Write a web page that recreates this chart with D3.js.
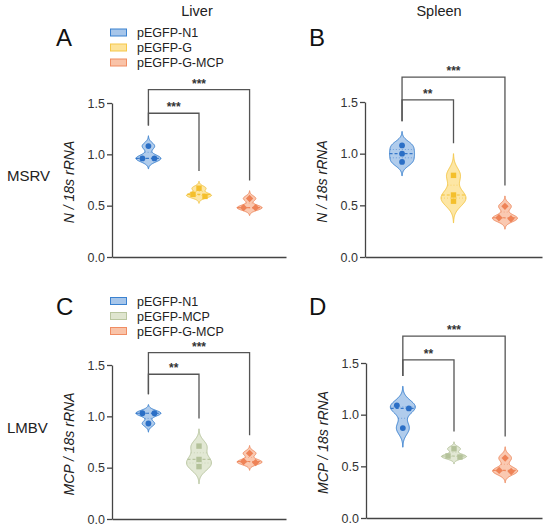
<!DOCTYPE html>
<html>
<head>
<meta charset="utf-8">
<script src="https://cdn.jsdelivr.net/npm/d3@7"></script>
<style>
  body { margin: 0; background: #fff; }
  svg { font-family: "Liberation Sans", Arial, sans-serif; }
</style>
</head>
<body>
<div id="chart"></div>
<script>
// groups per row
const groupsMSRV = ["pEGFP-N1", "pEGFP-G", "pEGFP-G-MCP"];
const groupsLMBV = ["pEGFP-N1", "pEGFP-MCP", "pEGFP-G-MCP"];

// relative expression, 3 replicates per group
const liverMSRV = [[1.08, 0.96, 0.96], [0.67, 0.61, 0.59], [0.57, 0.48, 0.48]];
const spleenMSRV = [[1.08, 1.0, 0.92], [0.79, 0.6, 0.54], [0.49, 0.38, 0.37]];
const liverLMBV = [[1.03, 1.03, 0.93], [0.71, 0.58, 0.51], [0.64, 0.56, 0.55]];
const spleenLMBV = [[1.09, 1.06, 0.87], [0.67, 0.6, 0.59], [0.58, 0.46, 0.45]];

const yTicks = [0, 0.5, 1.0, 1.5];

// significance: [compared group index, bracket level, label]
const sigLiverMSRV = [[1, 1.4, "***"], [2, 1.63, "***"]];
const sigSpleenMSRV = [[1, 1.52, "**"], [2, 1.74, "***"]];
const sigLiverLMBV = [[1, 1.41, "**"], [2, 1.62, "***"]];
const sigSpleenLMBV = [[1, 1.53, "**"], [2, 1.76, "***"]];

const colors = {
  "pEGFP-N1": { fill: "#a7c6ea", stroke: "#3b82d0", dot: "#2b6fc6" },
  "pEGFP-G": { fill: "#fde39a", stroke: "#f5c84a", dot: "#f4bf2c" },
  "pEGFP-G-MCP": { fill: "#f9c3a8", stroke: "#f08d63", dot: "#ee8357" },
  "pEGFP-MCP": { fill: "#dfe5cf", stroke: "#b9c6a0", dot: "#b4c29a" }
};
const shapes = ["circle", "square", "diamond"];

const svg = d3.select("#chart").append("svg")
  .attr("width", 550).attr("height", 529);

function kde(values, h, y) {
  return d3.mean(values, v => Math.exp(-0.5 * ((y - v) / h) ** 2));
}

function panel(opt) {
  const g = svg.append("g");
  const x = d3.scalePoint().domain(opt.groups).range([opt.x0, opt.x1]).padding(0.72);
  const y = d3.scaleLinear().domain([0, 1.5]).range([opt.y0, opt.y1]);

  g.append("g")
    .attr("transform", `translate(${opt.x0},0)`)
    .call(d3.axisLeft(y).tickValues(yTicks).tickFormat(d3.format(".1f")).tickSize(5).tickSizeOuter(0))
    .call(a => a.select(".domain").attr("stroke", "#444").attr("stroke-width", 1.3))
    .call(a => a.selectAll(".tick line").attr("stroke", "#444").attr("stroke-width", 1.3))
    .call(a => a.selectAll(".tick text").attr("font-size", 12.5).attr("fill", "#333")
      .attr("font-family", "Liberation Sans, Arial, sans-serif").attr("x", -7));

  g.append("g")
    .attr("transform", `translate(0,${opt.y0})`)
    .call(d3.axisBottom(x).tickValues([]).tickSizeOuter(0))
    .call(a => a.select(".domain").attr("stroke", "#444").attr("stroke-width", 1.3));

  g.append("text")
    .attr("transform", `translate(${opt.x0 - 38},${(opt.y0 + opt.y1) / 2 + 2}) rotate(-90)`)
    .attr("text-anchor", "middle")
    .attr("font-size", 14).attr("font-style", "italic").attr("fill", "#222")
    .text(opt.ylabel);

  const tops = [];
  opt.data.forEach((vals, i) => {
    const name = opt.groups[i];
    const c = colors[name];
    const cx = x(name);
    const lo = d3.min(vals), hi = d3.max(vals);
    const h = Math.max(0.28 * (hi - lo), 0.02);
    const ys = d3.range(0, 101).map(k => lo - 3 * h + k * (hi - lo + 6 * h) / 100);
    const dens = ys.map(v => kde(vals, h, v));
    const maxD = d3.max(dens);
    const w = d3.scaleLinear().domain([0, maxD]).range([0, 12.5]);
    tops.push(hi + 3 * h);

    const area = d3.area()
      .y((d, k) => y(ys[k]))
      .x0(d => cx - w(d))
      .x1(d => cx + w(d))
      .curve(d3.curveBasis);
    g.append("path").datum(dens).attr("d", area)
      .attr("fill", c.fill).attr("fill-opacity", 0.9)
      .attr("stroke", c.stroke).attr("stroke-width", 1);

    // median and quartile lines
    const sorted = vals.slice().sort(d3.ascending);
    const q = [d3.quantile(sorted, 0.25), d3.median(vals), d3.quantile(sorted, 0.75)];
    q.forEach((qv, k) => {
      const hw = w(kde(vals, h, qv));
      g.append("line")
        .attr("x1", cx - hw).attr("x2", cx + hw)
        .attr("y1", y(qv)).attr("y2", y(qv))
        .attr("stroke", c.dot).attr("stroke-width", k === 1 ? 1.2 : 0.8)
        .attr("stroke-dasharray", k === 1 ? "3,2" : "1,2")
        .attr("opacity", k === 1 ? 0.9 : 0.6);
    });

    // points, spread sideways when they overlap
    const pts = vals.map(v => ({ v, dx: 0 }));
    pts.sort((a, b) => b.v - a.v);
    for (let k = 0; k < pts.length - 1; k++) {
      if (Math.abs(y(pts[k].v) - y(pts[k + 1].v)) < 5 && pts[k].dx === 0) {
        pts[k].dx = -6; pts[k + 1].dx = 6;
      }
    }
    const shape = shapes[i];
    pts.forEach(p => {
      const px = cx + p.dx, py = y(p.v);
      if (shape === "circle") {
        g.append("circle").attr("cx", px).attr("cy", py).attr("r", 2.9).attr("fill", c.dot);
      } else if (shape === "square") {
        g.append("rect").attr("x", px - 2.7).attr("y", py - 2.7).attr("width", 5.4).attr("height", 5.4).attr("fill", c.dot);
      } else {
        g.append("path").attr("d", d3.symbol(d3.symbolDiamond2, 34)()).attr("transform", `translate(${px},${py})`).attr("fill", c.dot);
      }
    });
  });

  // significance brackets
  const x0g = x(opt.groups[0]);
  opt.sig.forEach(([j, level, label]) => {
    const xj = x(opt.groups[j]);
    g.append("path")
      .attr("d", `M${x0g},${y(tops[0] + 0.1)}V${y(level)}H${xj}V${y(tops[j] + 0.1)}`)
      .attr("fill", "none").attr("stroke", "#555").attr("stroke-width", 1.3);
    g.append("text")
      .attr("x", (x0g + xj) / 2).attr("y", y(level) - 2)
      .attr("text-anchor", "middle").attr("font-size", 12).attr("font-weight", "bold").attr("fill", "#333")
      .text(label);
  });

  g.append("text").attr("x", opt.letterX).attr("y", opt.letterY)
    .attr("font-size", 24).attr("fill", "#111").text(opt.letter);

  if (opt.legend) {
    opt.groups.forEach((name, i) => {
      const ly = opt.legendY + i * 15;
      g.append("rect").attr("x", 110.5).attr("y", ly - 3.5).attr("width", 16).attr("height", 7)
        .attr("fill", colors[name].fill).attr("stroke", colors[name].stroke).attr("stroke-width", 1);
      g.append("text").attr("x", 137).attr("y", ly + 4.5)
        .attr("font-size", 12.5).attr("fill", "#222").text(name);
    });
  }
}

panel({ groups: groupsMSRV, data: liverMSRV, sig: sigLiverMSRV, x0: 112, x1: 286, y0: 257, y1: 103,
  ylabel: "N / 18s rRNA", letter: "A", letterX: 56, letterY: 46, legend: true, legendY: 32.5 });
panel({ groups: groupsMSRV, data: spleenMSRV, sig: sigSpleenMSRV, x0: 365, x1: 542, y0: 257, y1: 102,
  ylabel: "N / 18s rRNA", letter: "B", letterX: 309, letterY: 46, legend: false });
panel({ groups: groupsLMBV, data: liverLMBV, sig: sigLiverLMBV, x0: 112, x1: 286, y0: 519, y1: 365,
  ylabel: "MCP / 18s rRNA", letter: "C", letterX: 56, letterY: 315, legend: true, legendY: 301 });
panel({ groups: groupsLMBV, data: spleenLMBV, sig: sigSpleenLMBV, x0: 366, x1: 542, y0: 518, y1: 363,
  ylabel: "MCP / 18s rRNA", letter: "D", letterX: 309, letterY: 315, legend: false });

svg.append("text").attr("x", 197).attr("y", 16).attr("text-anchor", "middle")
  .attr("font-size", 14.5).attr("fill", "#222").text("Liver");
svg.append("text").attr("x", 439).attr("y", 16).attr("text-anchor", "middle")
  .attr("font-size", 14.5).attr("fill", "#222").text("Spleen");
svg.append("text").attr("x", 7).attr("y", 181)
  .attr("font-size", 15).attr("fill", "#222").text("MSRV");
svg.append("text").attr("x", 7).attr("y", 433)
  .attr("font-size", 15).attr("fill", "#222").text("LMBV");
</script>
</body>
</html>
